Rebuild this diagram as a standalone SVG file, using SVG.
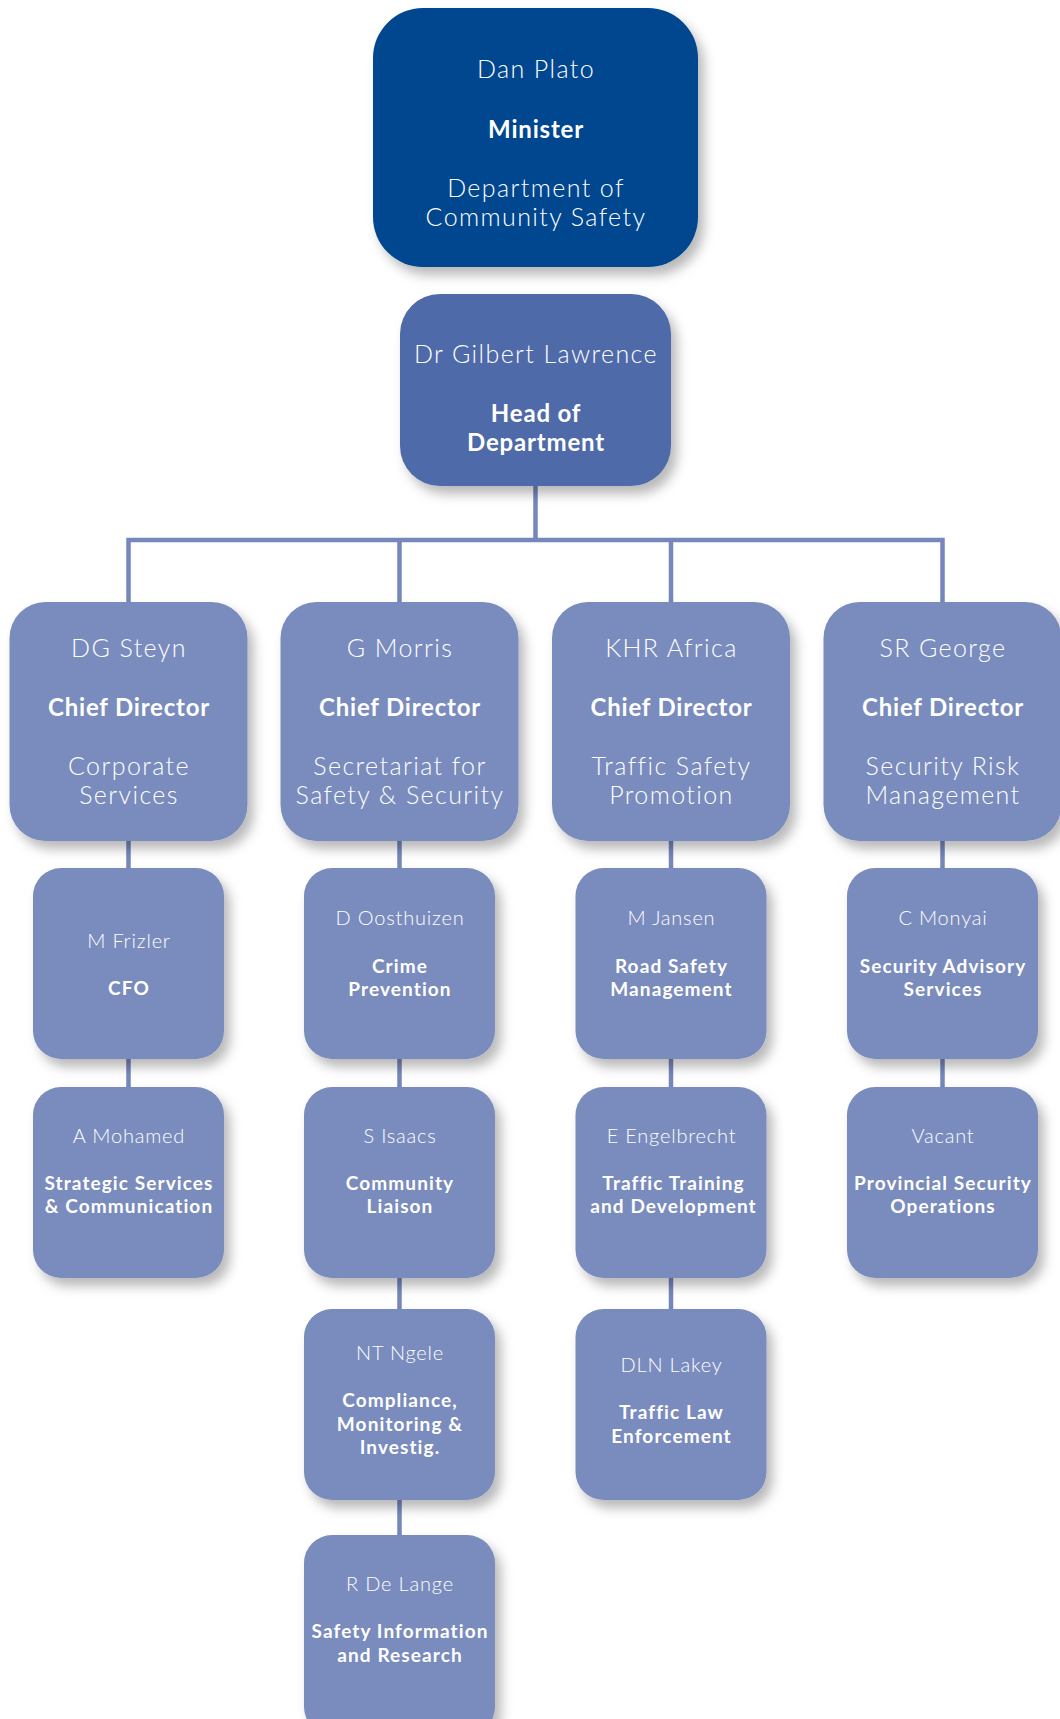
<svg xmlns="http://www.w3.org/2000/svg" width="1060" height="1719" viewBox="0 0 1060 1719">
<defs>
<filter id="sh" x="-20%" y="-20%" width="150%" height="150%">
<feDropShadow dx="6" dy="8" stdDeviation="6" flood-color="#000" flood-opacity="0.28"/>
</filter>
</defs>
<style>
.box{fill:#7A8CBD;filter:url(#sh)}
.min{fill:#03478F;filter:url(#sh)}
.hod{fill:#4F6AA9;filter:url(#sh)}
.ln{stroke:#7587BB;stroke-width:4.5;fill:none}
text{font-family:Lato,"Open Sans","Liberation Sans",sans-serif;fill:#fff;text-anchor:middle}
.n{font-weight:300;font-size:25px;letter-spacing:1.4px}
.b{font-weight:700;font-size:24px;letter-spacing:0.8px}
.n3{font-weight:300;font-size:20px;letter-spacing:0.8px}
.b3{font-weight:700;font-size:19px;letter-spacing:1.1px}
</style>
<g id="connectors">
<path class="ln" d="M535.5 486V540M128.5 602V540H942.5V602M399.5 540V602M671 540V602"/>
<path class="ln" d="M128.5 841V868M128.5 1059V1087"/>
<path class="ln" d="M399.5 841V868M399.5 1059V1087M399.5 1278V1309M399.5 1500V1535"/>
<path class="ln" d="M671 841V868M671 1059V1087M671 1278V1309"/>
<path class="ln" d="M942.5 841V868M942.5 1059V1087"/>
</g>
<g id="minister">
<rect class="min" x="373" y="8" width="325" height="259" rx="50"/>
<text class="n" x="536" y="78">Dan Plato</text>
<text class="b" x="536" y="138">Minister</text>
<text class="n" x="536" y="197">Department of</text>
<text class="n" x="536" y="226">Community Safety</text>
</g>
<g id="hod">
<rect class="hod" x="400" y="294" width="271" height="192" rx="40"/>
<text class="n" x="536" y="363">Dr Gilbert Lawrence</text>
<text class="b" x="536" y="422">Head of</text>
<text class="b" x="536" y="451">Department</text>
</g>
<g id="cd1">
<rect class="box" x="9.5" y="602" width="238" height="239" rx="36"/>
<text class="n" x="129" y="657">DG Steyn</text>
<text class="b" x="129" y="716">Chief Director</text>
<text class="n" x="129" y="775">Corporate</text>
<text class="n" x="129" y="804">Services</text>
</g>
<g id="cd2">
<rect class="box" x="280.5" y="602" width="238" height="239" rx="36"/>
<text class="n" x="400" y="657">G Morris</text>
<text class="b" x="400" y="716">Chief Director</text>
<text class="n" x="400" y="775">Secretariat for</text>
<text class="n" x="400" y="804">Safety &amp; Security</text>
</g>
<g id="cd3">
<rect class="box" x="552" y="602" width="238" height="239" rx="36"/>
<text class="n" x="671.5" y="657">KHR Africa</text>
<text class="b" x="671.5" y="716">Chief Director</text>
<text class="n" x="671.5" y="775">Traffic Safety</text>
<text class="n" x="671.5" y="804">Promotion</text>
</g>
<g id="cd4">
<rect class="box" x="823.5" y="602" width="238" height="239" rx="36"/>
<text class="n" x="943" y="657">SR George</text>
<text class="b" x="943" y="716">Chief Director</text>
<text class="n" x="943" y="775">Security Risk</text>
<text class="n" x="943" y="804">Management</text>
</g>
<g id="cfo">
<rect class="box" x="33" y="868" width="191" height="191" rx="28"/>
<text class="n3" x="129" y="948">M Frizler</text>
<text class="b3" x="129" y="995">CFO</text>
</g>
<g id="strategic">
<rect class="box" x="33" y="1087" width="191" height="191" rx="28"/>
<text class="n3" x="129" y="1143">A Mohamed</text>
<text class="b3" x="129" y="1190">Strategic Services</text>
<text class="b3" x="129" y="1213">&amp; Communication</text>
</g>
<g id="crime">
<rect class="box" x="304" y="868" width="191" height="191" rx="28"/>
<text class="n3" x="400" y="925">D Oosthuizen</text>
<text class="b3" x="400" y="973">Crime</text>
<text class="b3" x="400" y="996">Prevention</text>
</g>
<g id="liaison">
<rect class="box" x="304" y="1087" width="191" height="191" rx="28"/>
<text class="n3" x="400" y="1143">S Isaacs</text>
<text class="b3" x="400" y="1190">Community</text>
<text class="b3" x="400" y="1213">Liaison</text>
</g>
<g id="compliance">
<rect class="box" x="304" y="1309" width="191" height="191" rx="28"/>
<text class="n3" x="400" y="1360">NT Ngele</text>
<text class="b3" x="400" y="1407">Compliance,</text>
<text class="b3" x="400" y="1431">Monitoring &amp;</text>
<text class="b3" x="400" y="1454">Investig.</text>
</g>
<g id="research">
<rect class="box" x="304" y="1535" width="191" height="200" rx="28"/>
<text class="n3" x="400" y="1591">R De Lange</text>
<text class="b3" x="400" y="1638">Safety Information</text>
<text class="b3" x="400" y="1662">and Research</text>
</g>
<g id="road">
<rect class="box" x="575.5" y="868" width="191" height="191" rx="28"/>
<text class="n3" x="671.5" y="925">M Jansen</text>
<text class="b3" x="671.5" y="973">Road Safety</text>
<text class="b3" x="671.5" y="996">Management</text>
</g>
<g id="training">
<rect class="box" x="575.5" y="1087" width="191" height="191" rx="28"/>
<text class="n3" x="671.5" y="1143">E Engelbrecht</text>
<text class="b3" x="673.5" y="1190">Traffic Training</text>
<text class="b3" x="673.5" y="1213">and Development</text>
</g>
<g id="lawenf">
<rect class="box" x="575.5" y="1309" width="191" height="191" rx="28"/>
<text class="n3" x="671.5" y="1372">DLN Lakey</text>
<text class="b3" x="671.5" y="1419">Traffic Law</text>
<text class="b3" x="671.5" y="1443">Enforcement</text>
</g>
<g id="advisory">
<rect class="box" x="847" y="868" width="191" height="191" rx="28"/>
<text class="n3" x="943" y="925">C Monyai</text>
<text class="b3" x="943" y="973">Security Advisory</text>
<text class="b3" x="943" y="996">Services</text>
</g>
<g id="provincial">
<rect class="box" x="847" y="1087" width="191" height="191" rx="28"/>
<text class="n3" x="943" y="1143">Vacant</text>
<text class="b3" x="943" y="1190">Provincial Security</text>
<text class="b3" x="943" y="1213">Operations</text>
</g>
</svg>
